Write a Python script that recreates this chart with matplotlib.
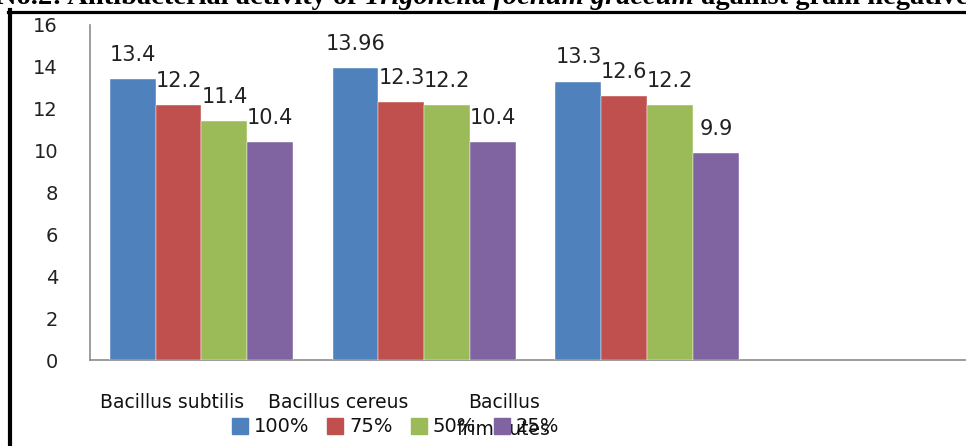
import matplotlib
matplotlib.use("Agg")
import matplotlib.pyplot as plt
from matplotlib.lines import Line2D
import numpy as np

categories = ["Bacillus subtilis", "Bacillus cereus", "Bacillus\nfrimicutes"]
series_names = ["100%", "75%", "50%", "25%"]
values = {
    "100%": [13.4, 13.96, 13.3],
    "75%": [12.2, 12.3, 12.6],
    "50%": [11.4, 12.2, 12.2],
    "25%": [10.4, 10.4, 9.9],
}
colors = ["#4F81BD", "#C0504D", "#9BBB59", "#8064A2"]
yticks = [0, 2, 4, 6, 8, 10, 12, 14, 16]

W, H = 966, 446
fig = plt.figure(figsize=(W / 100, H / 100), dpi=100)

ax = fig.add_axes([90 / W, (H - 360) / H, (W - 90) / W, 335 / H])

x = np.arange(len(categories))
bw = 0.206
for i, name in enumerate(series_names):
    xs = x + (i - 1.5) * bw
    bars = ax.bar(xs, values[name], width=bw, color=colors[i],
                  edgecolor="white", linewidth=0.3, zorder=3)
    for b, v in zip(bars, values[name]):
        ax.annotate(f"{v:g}", (b.get_x() + b.get_width() / 2, v),
                    xytext=(0, 13), textcoords="offset points",
                    ha="center", va="baseline", fontsize=15,
                    color="#222222", zorder=5)

ax.set_xlim(-0.5, 3.43)
ax.set_ylim(0, 16)
ax.set_yticks(yticks)
ax.set_yticklabels([str(t) for t in yticks], fontsize=14, color="#222222")
ax.tick_params(axis="y", length=0, pad=23)

label_pos = [(172 - 90) / 223 - 0.5, (338 - 90) / 223 - 0.5, (504 - 90) / 223 - 0.5]
ax.set_xticks(label_pos)
ax.set_xticklabels(categories, fontsize=13.5, color="#111111", linespacing=1.5)
ax.tick_params(axis="x", length=0, pad=24)

for s in ["top", "right"]:
    ax.spines[s].set_visible(False)
for s in ["left", "bottom"]:
    ax.spines[s].set_color("#8C8C8C")
    ax.spines[s].set_linewidth(1.2)

handles = [Line2D([], [], marker="s", linestyle="none", markersize=11,
                  markerfacecolor=c, markeredgecolor=c) for c in colors]
fig.legend(handles, series_names, loc="center", ncol=4,
           bbox_to_anchor=(396 / W, 1 - 427 / H), frameon=False,
           fontsize=14, handlelength=0.75, handletextpad=0.35,
           columnspacing=0.95, borderpad=0, labelcolor="#111111")

# outer frame lines
fig.add_artist(Line2D([8 / W, 1.0], [1 - 11.5 / H, 1 - 11.5 / H],
                      transform=fig.transFigure, color="black", linewidth=2.3))
fig.add_artist(Line2D([10 / W, 10 / W], [0, 1 - 10 / H],
                      transform=fig.transFigure, color="black", linewidth=3.0))

# partially visible title at the top
fig.canvas.draw()
renderer = fig.canvas.get_renderer()
pieces = [("No.2: Antibacterial activity of ", "normal"),
          ("Trigonella foenum graecum", "italic"),
          (" against gram negative bacteria", "normal")]
xpix = -4
ybase = 1 - 4 / H
for txt, style in pieces:
    t = fig.text(xpix / W, ybase, txt, fontsize=20.5, fontweight="bold",
                 fontstyle=style, family="Liberation Serif",
                 va="baseline", ha="left")
    bb = t.get_window_extent(renderer)
    xpix += bb.width

fig.savefig("out.png", dpi=100)
